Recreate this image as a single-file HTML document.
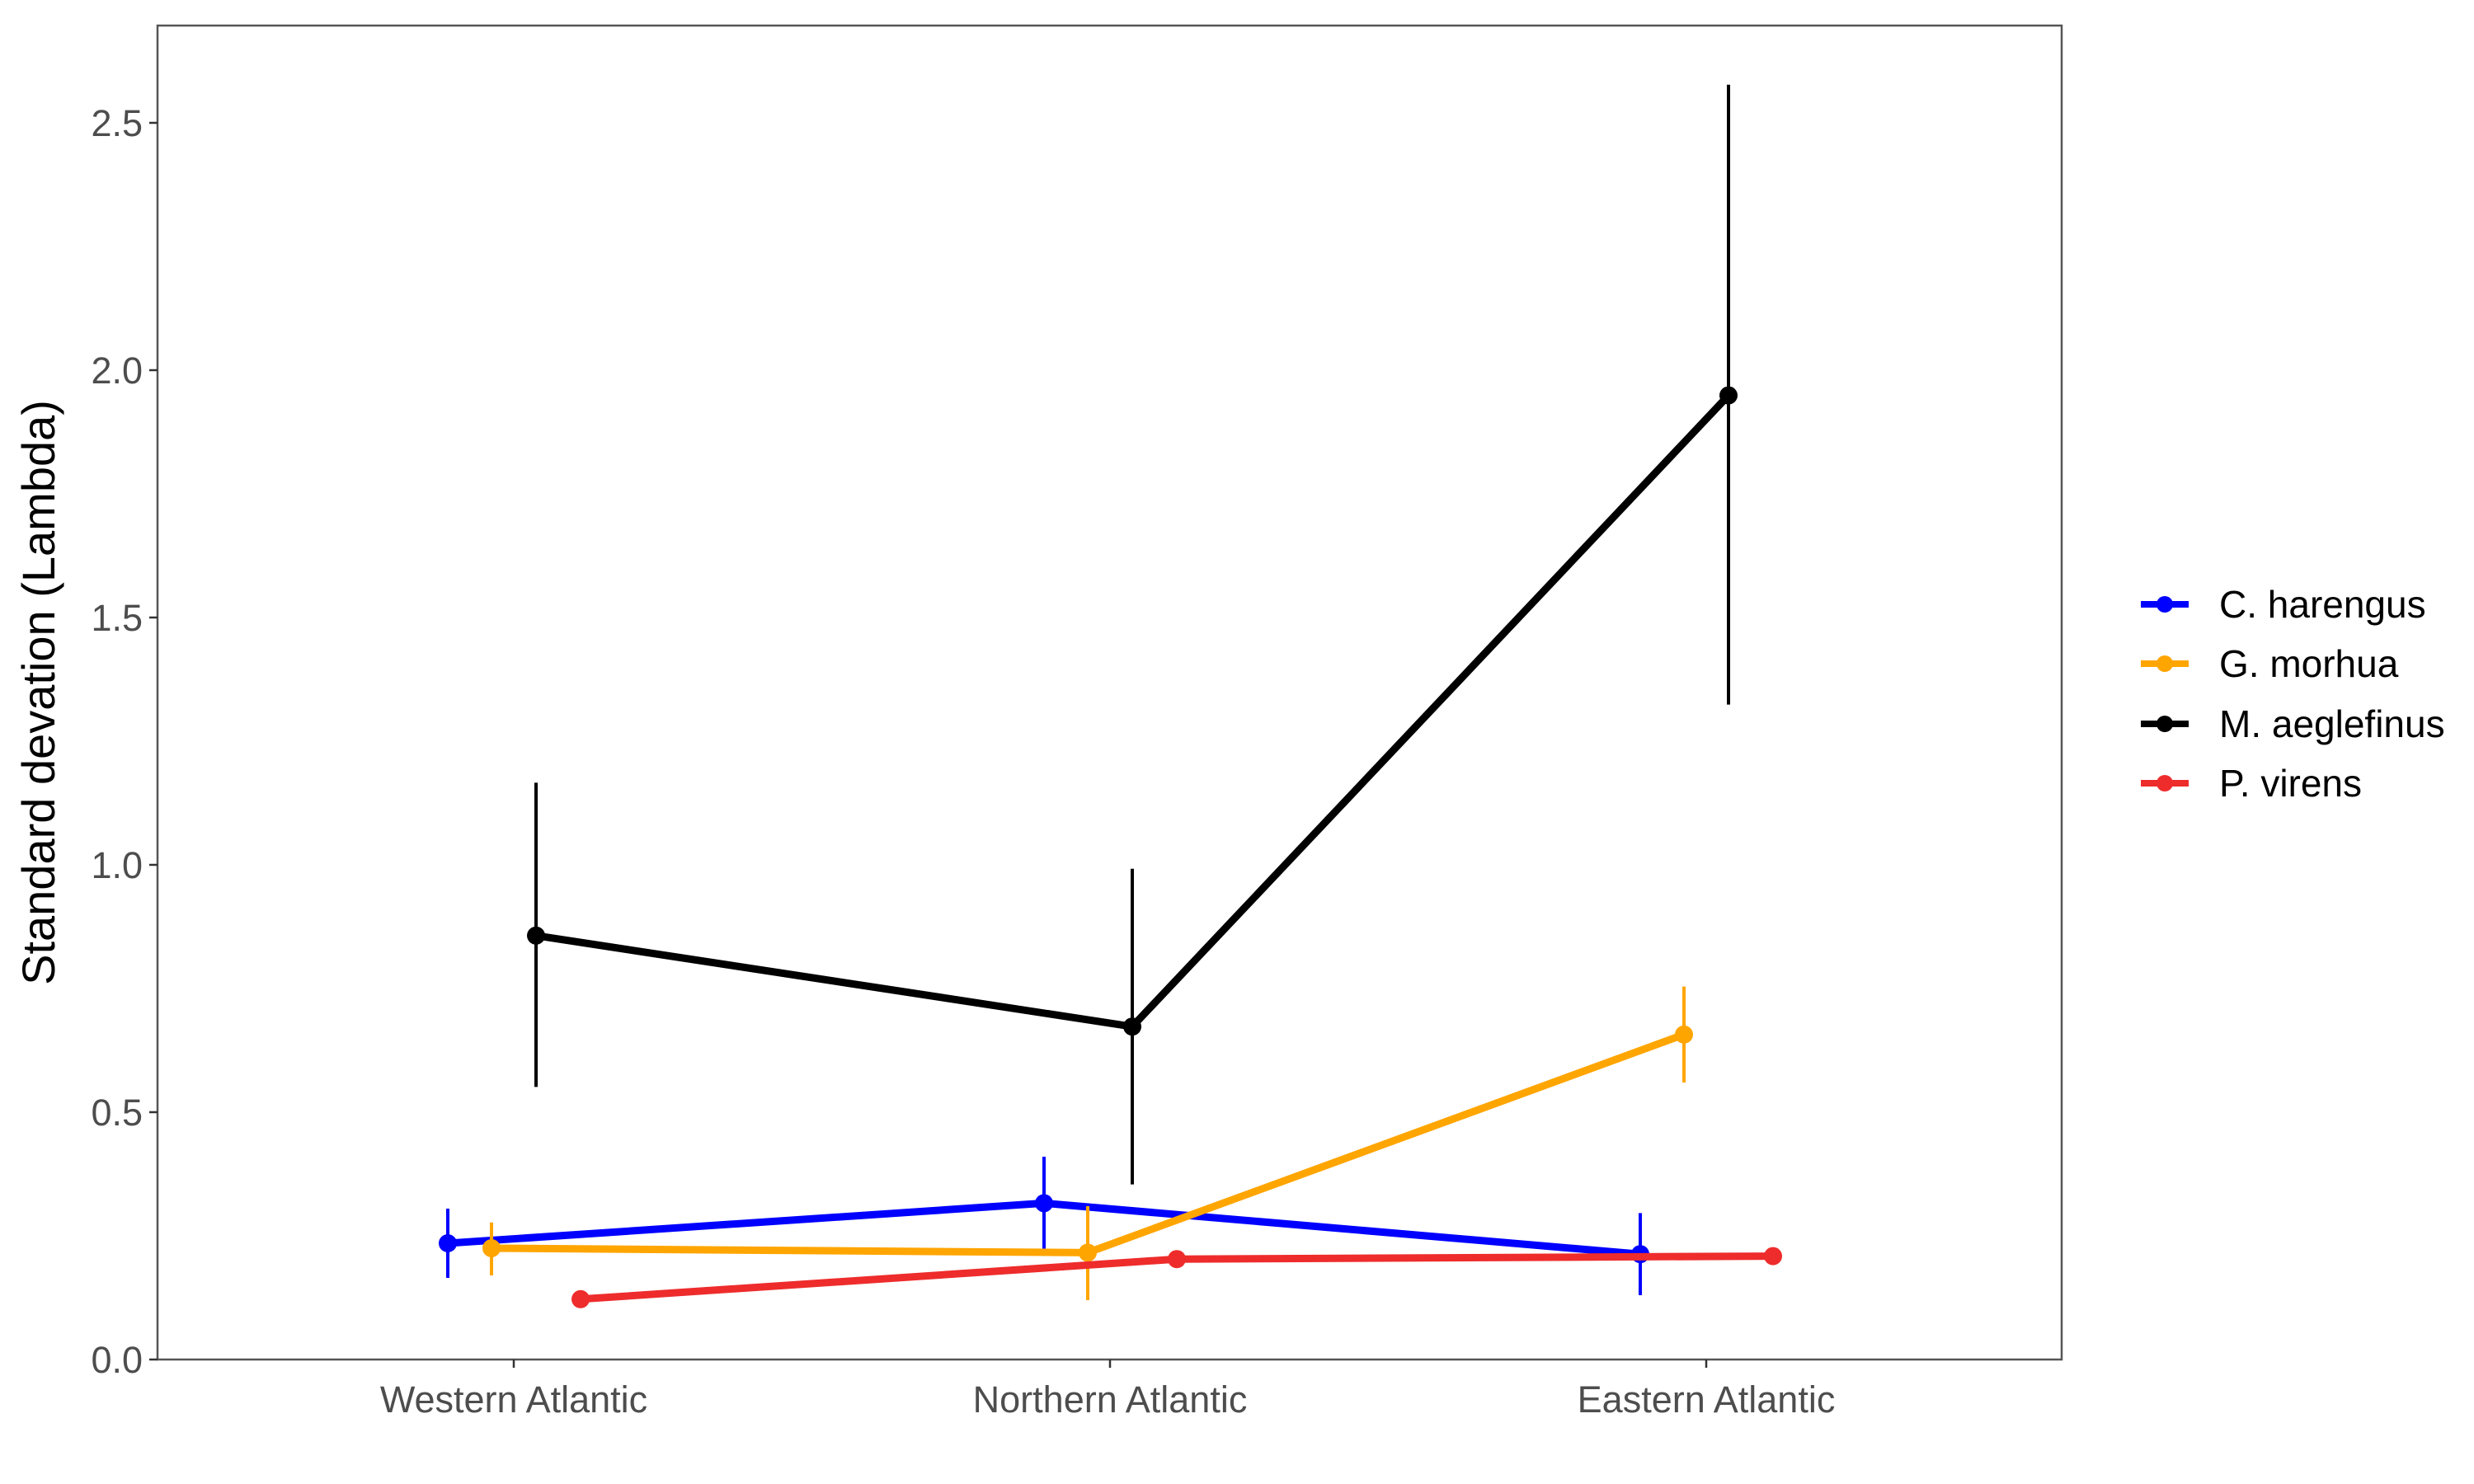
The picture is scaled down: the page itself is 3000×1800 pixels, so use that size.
<!DOCTYPE html>
<html><head><meta charset="utf-8"><style>html,body{margin:0;padding:0;background:#fff}svg{display:block}text{font-family:"Liberation Sans",Arial,sans-serif}</style></head>
<body>
<svg id="chart" width="3000" height="1800" viewBox="0 0 3000 1800" xmlns="http://www.w3.org/2000/svg">
<rect x="0" y="0" width="3000" height="1800" fill="#fff"/>
<g id="plot"></g>
<rect x="191" y="31" width="2309" height="1618" fill="none" stroke="#555" stroke-width="2.5"/>
<text transform="translate(66,840) rotate(-90)" text-anchor="middle" font-size="56" fill="#000">Standard devation (Lambda)</text>
<g id="legend"></g>
</svg>
<script>
const categories = ["Western Atlantic","Northern Atlantic","Eastern Atlantic"];
const seriesNames = ["C. harengus","G. morhua","M. aeglefinus","P. virens"];
const seriesColors = ["#0000FF","#FFA500","#000000","#EE2C2C"];
const harengusMean = [0.235,0.316,0.213];
const harengusLo = [0.165,0.22,0.13];
const harengusHi = [0.305,0.41,0.296];
const morhuaMean = [0.225,0.216,0.657];
const morhuaLo = [0.17,0.12,0.56];
const morhuaHi = [0.277,0.31,0.754];
const aeglefinusMean = [0.857,0.673,1.949];
const aeglefinusLo = [0.551,0.354,1.324];
const aeglefinusHi = [1.166,0.992,2.577];
const virensMean = [0.122,0.203,0.209];
const virensLo = [0.122,0.203,0.209];
const virensHi = [0.122,0.203,0.209];
const yTicks = [0,0.5,1.0,1.5,2.0,2.5];
const yTickLabels = ["0.0","0.5","1.0","1.5","2.0","2.5"];

const NS="http://www.w3.org/2000/svg";
const L=191,R=2500,T=31,B=1649;
const y0=1649, yPerUnit=(1649-149)/2.5;
function yScale(v){return y0-v*yPerUnit;}
function xScale(i){return 623+i*723;}
const dodge=[-80,-27,27,81];
function mk(tag,attrs,parent){const e=document.createElementNS(NS,tag);for(const k in attrs)e.setAttribute(k,attrs[k]);parent.appendChild(e);return e;}
const svg=document.getElementById('chart');
const plot=document.getElementById('plot');
yTicks.forEach((t,i)=>{
  const tk=mk('line',{x1:L-10,x2:L,y1:yScale(t),y2:yScale(t),stroke:'#333','stroke-width':2.5},svg);
  
  
  const tx=mk('text',{x:L-18,y:yScale(t)+16,'text-anchor':'end','font-size':45,fill:'#4d4d4d'},svg);
  tx.textContent=yTickLabels[i];
  
  
});
categories.forEach((c,i)=>{
  const tk=mk('line',{x1:xScale(i),x2:xScale(i),y1:B,y2:B+10,stroke:'#333','stroke-width':2.5},svg);
  
  
  const tx=mk('text',{x:xScale(i),y:1713,'text-anchor':'middle','font-size':45,fill:'#4d4d4d'},svg);
  tx.textContent=c;
  
  
});
const means=[harengusMean,morhuaMean,aeglefinusMean,virensMean];
const los=[harengusLo,morhuaLo,aeglefinusLo,virensLo];
const his=[harengusHi,morhuaHi,aeglefinusHi,virensHi];
const keys=['harengus','morhua','aeglefinus','virens'];
means.forEach((m,s)=>{
  const g=mk('g',{},plot);
  
  
  const pts=m.map((v,i)=>(xScale(i)+dodge[s])+','+yScale(v)).join(' ');
  const pl=mk('polyline',{points:pts,fill:'none',stroke:seriesColors[s],'stroke-width':9,'stroke-linejoin':'round'},g);
  
  
  m.forEach((v,i)=>{
    const x=xScale(i)+dodge[s];
    const eb=mk('line',{x1:x,x2:x,y1:yScale(los[s][i]),y2:yScale(his[s][i]),stroke:seriesColors[s],'stroke-width':4},g);
    
    
    const c=mk('circle',{cx:x,cy:yScale(v),r:11,fill:seriesColors[s]},g);
    
    
  });
});
const leg=document.getElementById('legend');
const legY=[733,805,878,950];
seriesNames.forEach((n,s)=>{
  const g=mk('g',{},leg);
  
  
  mk('line',{x1:2596,x2:2654,y1:legY[s],y2:legY[s],stroke:seriesColors[s],'stroke-width':8},g);
  mk('circle',{cx:2625,cy:legY[s],r:10,fill:seriesColors[s]},g);
  const t=mk('text',{x:2691,y:legY[s]+16,'font-size':46,fill:'#000'},g);
  t.textContent=n;
});
</script>
</body></html>
